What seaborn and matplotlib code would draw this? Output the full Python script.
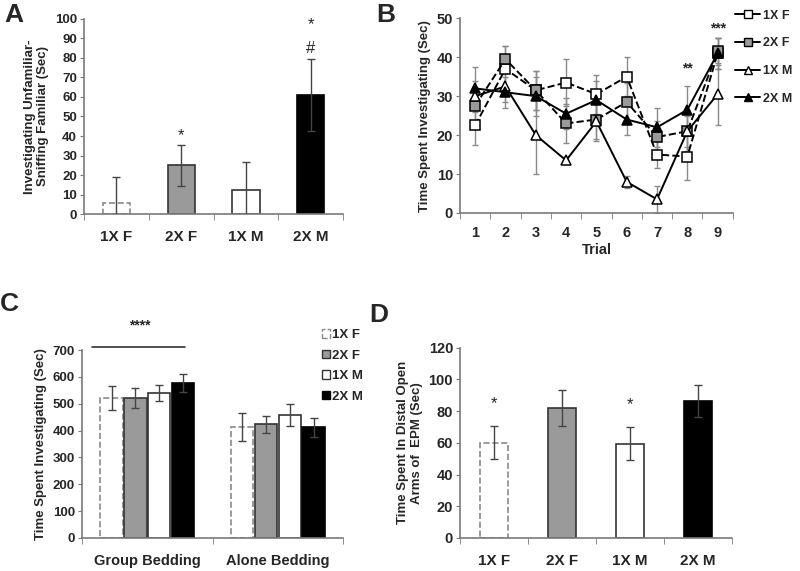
import numpy as np
import pandas as pd
import seaborn as sns
import matplotlib.pyplot as plt
from matplotlib.patches import Patch
from matplotlib.lines import Line2D

groups = ["1X F", "2X F", "1X M", "2X M"]

# panel A: investigating unfamiliar - sniffing familiar
a_mean = [5.5, 25, 12.5, 61]
a_err = [13.5, 10.5, 14, 18.5]

# panel B: habituation / dishabituation trials
trials = [1, 2, 3, 4, 5, 6, 7, 8, 9]
b_1xf = [22.5, 37, 31.5, 33.5, 30.5, 35, 15, 14.5, 41]
b_1xf_err = [5, 6, 5, 6, 5, 5, 3.5, 6, 4]
b_2xf = [27.5, 39.5, 31.5, 23, 24, 28.5, 19.5, 21, 41.5]
b_2xf_err = [4.5, 3.5, 5, 5, 5, 5, 4, 4, 3.5]
b_1xm = [30, 32.5, 20, 13.5, 23.5, 8, 3.5, 21, 30.5]
b_1xm_err = [4, 4, 10, 1, 5, 1.5, 3.5, 5, 8]
b_2xm = [32, 31, 30, 25.5, 29, 24, 22, 26.5, 41]
b_2xm_err = [5.5, 4, 5, 4, 5, 4, 5, 6, 4]

# panel C: bedding preference
beddings = ["Group Bedding", "Alone Bedding"]
c_mean = {"1X F": [520, 413], "2X F": [520, 423], "1X M": [540, 458], "2X M": [578, 412]}
c_err = {"1X F": [45, 52], "2X F": [37, 32], "1X M": [30, 40], "2X M": [33, 35]}

# panel D: elevated plus maze
d_mean = [60, 82, 59.5, 86.5]
d_err = [10.5, 11.5, 10.5, 10]

fills = ["white", "#9a9a9a", "white", "black"]
edges = ["#8a8a8a", "#333333", "#333333", "black"]
styles = ["--", "-", "-", "-"]

sns.set_style("white")
plt.rcParams["font.family"] = ["Liberation Sans", "DejaVu Sans"]
plt.rcParams["font.weight"] = "bold"
plt.rcParams["axes.labelweight"] = "bold"

fig = plt.figure(figsize=(8, 5.71), dpi=100)
axA = fig.add_axes([0.105, 0.625, 0.324, 0.342])
axB = fig.add_axes([0.575, 0.627, 0.341, 0.341])
axC = fig.add_axes([0.1025, 0.058, 0.3265, 0.329])
axD = fig.add_axes([0.575, 0.058, 0.340, 0.333])


def style_axis(ax):
    sns.despine(ax=ax)
    for s in ["left", "bottom"]:
        ax.spines[s].set_color("#7a7a7a")
        ax.spines[s].set_linewidth(1.2)
    ax.tick_params(axis="y", left=True, length=3, color="#7a7a7a", labelsize=9.5, pad=2)
    ax.tick_params(axis="x", bottom=False, labelsize=11, pad=8)
    ax.tick_params(axis="x", which="minor", bottom=True, length=4, color="#7a7a7a")
    for t in ax.get_xticklabels() + ax.get_yticklabels():
        t.set_fontweight("bold")


def style_bars(ax, patches_groups):
    for p, g in patches_groups:
        i = groups.index(g)
        p.set_edgecolor(edges[i])
        p.set_linestyle(styles[i])
        p.set_linewidth(1.2)


def four_bar_panel(ax, means, errs, ylim, step, ylabel):
    sns.barplot(x=groups, y=means, hue=groups, palette=fills, legend=False,
                width=0.42, ax=ax)
    style_bars(ax, zip(ax.patches, groups))
    ax.errorbar(range(len(groups)), means, yerr=errs, fmt="none",
                ecolor="#444444", elinewidth=1, capsize=3, capthick=1, zorder=3)
    ax.set_ylim(*ylim)
    ax.set_yticks(np.arange(ylim[0], ylim[1] + 1, step))
    ax.set_xlim(-0.5, 3.5)
    ax.set_xticks([-0.5, 0.5, 1.5, 2.5, 3.5], minor=True)
    ax.set_ylabel(ylabel, fontsize=9.5)
    style_axis(ax)


# A
four_bar_panel(axA, a_mean, a_err, (0, 100), 10,
               "Investigating Unfamiliar-\nSniffing Familiar (Sec)")
axA.text(1, 40, "*", ha="center", va="center", fontsize=12, fontweight="normal")
axA.text(3, 85, "#", ha="center", va="center", fontsize=12, fontweight="normal")
axA.text(3, 97, "*", ha="center", va="center", fontsize=12, fontweight="normal", clip_on=False)

# B
series = [(b_1xf, b_1xf_err, "s", "white", "--"),
          (b_2xf, b_2xf_err, "s", "#9a9a9a", "--"),
          (b_1xm, b_1xm_err, "^", "white", "-"),
          (b_2xm, b_2xm_err, "^", "black", "-")]
handles = []
for (vals, errs, mk, fc, ls), g in zip(series, groups):
    axB.errorbar(trials, vals, yerr=errs, fmt="none", ecolor="#8a8a8a",
                 elinewidth=1, capsize=2.5, capthick=1, zorder=1)
    sns.lineplot(x=trials, y=vals, ax=axB, color="black", linestyle=ls,
                 linewidth=1.4, marker=mk, markersize=6.5, markerfacecolor=fc,
                 markeredgecolor="black", markeredgewidth=1.1, zorder=3)
    handles.append(Line2D([0], [0], color="black", linestyle="-", linewidth=1.4,
                          marker=mk, markersize=5.5, markerfacecolor=fc,
                          markeredgecolor="black", label=g))
axB.set_xlim(0.5, 9.5)
axB.set_ylim(0, 50)
axB.set_yticks([0, 10, 20, 30, 40, 50])
axB.set_xticks(trials)
axB.set_xticks(np.arange(0.5, 10, 1), minor=True)
axB.set_xlabel("Trial", fontsize=10.5, labelpad=2)
axB.set_ylabel("Time Spent Investigating (Sec)", fontsize=9.5)
style_axis(axB)
axB.tick_params(axis="x", pad=6, labelsize=10.5)
axB.tick_params(axis="y", labelsize=10.5)
axB.text(8, 37, "**", ha="center", va="center", fontsize=10)
axB.text(9, 47.5, "***", ha="center", va="center", fontsize=10)
axB.legend(handles=handles, loc="upper left", bbox_to_anchor=(0.99, 1.07),
           frameon=False, fontsize=9, handlelength=2.0, labelspacing=1.25,
           handletextpad=0.25, borderaxespad=0)

# C
df_c = pd.DataFrame([(b, g, c_mean[g][j], c_err[g][j])
                     for g in groups for j, b in enumerate(beddings)],
                    columns=["bedding", "group", "time", "err"])
sns.barplot(data=df_c, x="bedding", y="time", hue="group", hue_order=groups,
            palette=fills, width=0.73, gap=0.06, legend=False, ax=axC)
bar_groups = [g for g in groups for _ in beddings]
style_bars(axC, zip(axC.patches, bar_groups))
xs = [p.get_x() + p.get_width() / 2 for p in axC.patches]
axC.errorbar(xs, df_c["time"], yerr=df_c["err"], fmt="none", ecolor="#444444",
             elinewidth=1, capsize=3, capthick=1, zorder=3)
axC.set_ylim(0, 700)
axC.set_yticks(range(0, 701, 100))
axC.set_xlim(-0.5, 1.5)
axC.set_xticks([-0.5, 0.5, 1.5], minor=True)
axC.set_xlabel("")
axC.set_ylabel("Time Spent Investigating (Sec)", fontsize=9.5)
style_axis(axC)
axC.tick_params(axis="x", labelsize=10.5, pad=8)
axC.plot([-0.42, 0.29], [712, 712], color="#333333", lw=1.2, clip_on=False)
axC.text(-0.06, 790, "****", ha="center", va="center", fontsize=10,
         clip_on=False)
c_handles = [Patch(facecolor=f, edgecolor=e, linestyle=s, linewidth=1, label=g)
             for f, e, s, g in zip(fills, edges, styles, groups)]
axC.legend(handles=c_handles, loc="upper left", bbox_to_anchor=(0.9, 1.14),
           frameon=False, fontsize=9.5, handlelength=0.6, handleheight=0.6,
           handletextpad=0.15, labelspacing=0.65, borderaxespad=0)

# D
four_bar_panel(axD, d_mean, d_err, (0, 120), 20,
               "Time Spent In Distal Open\nArms of  EPM (Sec)")
axD.text(0, 85, "*", ha="center", va="center", fontsize=12, fontweight="normal")
axD.text(2, 84, "*", ha="center", va="center", fontsize=12, fontweight="normal")
axD.tick_params(axis="y", labelsize=10.5)

for lbl, x, y in [("A", 0.005, 0.995), ("B", 0.470, 0.995),
                  ("C", 0.0, 0.488), ("D", 0.462, 0.470)]:
    fig.text(x, y, lbl, fontsize=19, fontweight="bold", va="top", ha="left")

fig.savefig("out.png", dpi=100)
